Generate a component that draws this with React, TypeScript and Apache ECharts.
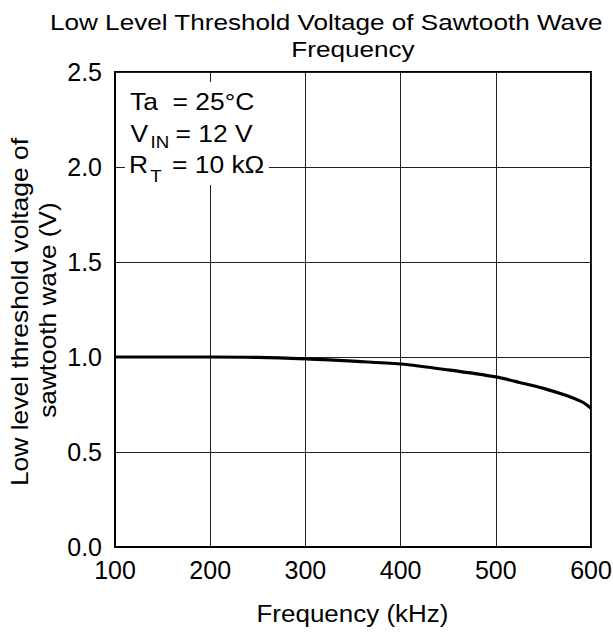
import React, { useEffect, useRef } from "react";
import * as echarts from "echarts";

const frequencies = [100, 150, 200, 250, 300, 350, 400, 450, 500, 525, 550, 575, 590, 595, 600];
const voltages = [1.0, 1.0, 1.0, 0.998, 0.99, 0.978, 0.963, 0.932, 0.895, 0.866, 0.835, 0.796, 0.765, 0.75, 0.73];
const xTicks = { min: 100, max: 600, interval: 100 };
const yTicks = { min: 0, max: 2.5, interval: 0.5 };
const titleLines = ["Low Level Threshold Voltage of Sawtooth Wave", "Frequency"];
const xName = "Frequency (kHz)";
const yNameLines = ["Low level threshold voltage of", "sawtooth wave (V)"];

const FONT = "Liberation Sans";
const MID = 0.3465;

function txt(text: string, x: number, baseline: number, fs: number, extra: any = {}) {
  return {
    type: "text",
    x,
    y: baseline - MID * fs,
    z: 101,
    scaleX: extra.scaleX ?? 1,
    style: {
      text,
      fontSize: fs,
      fontFamily: FONT,
      fill: "#000",
      align: extra.align ?? "left",
      verticalAlign: "middle",
    },
  };
}

export default function App() {
  const ref = useRef<HTMLDivElement>(null);
  useEffect(() => {
    document.body.style.margin = "0";
    const chart = echarts.init(ref.current!, null, { renderer: "svg" });
    const data = frequencies.map((f, i) => [f, voltages[i]]);
    chart.setOption({
      animation: false,
      backgroundColor: "#fff",
      grid: {
        left: 115,
        top: 72,
        right: 22,
        bottom: 95,
        show: true,
        borderColor: "#000",
        borderWidth: 2,
        outerBoundsMode: "none",
      },
      xAxis: {
        type: "value",
        min: xTicks.min,
        max: xTicks.max,
        interval: xTicks.interval,
        axisLine: { show: true, lineStyle: { color: "#000", width: 2 } },
        axisTick: { show: false },
        axisLabel: { fontSize: 25, fontFamily: FONT, color: "#000", margin: 10 },
        splitLine: { show: true, lineStyle: { color: "#222", width: 1 } },
      },
      yAxis: {
        type: "value",
        min: yTicks.min,
        max: yTicks.max,
        interval: yTicks.interval,
        axisLine: { show: true, lineStyle: { color: "#000", width: 2 } },
        axisTick: { show: false },
        axisLabel: {
          fontSize: 25,
          fontFamily: FONT,
          color: "#000",
          margin: 13,
          formatter: (v: number) => v.toFixed(1),
        },
        splitLine: { show: true, lineStyle: { color: "#222", width: 1 } },
      },
      series: [
        {
          type: "line",
          data,
          smooth: 0.3,
          showSymbol: false,
          lineStyle: { color: "#000", width: 3.2 },
          z: 5,
        },
      ],
      graphic: [
        txt(titleLines[0], 50, 29.5, 22.5, { scaleX: 1.16 }),
        txt(titleLines[1], 353, 56.7, 22.5, { scaleX: 1.16, align: "center" }),
        txt(xName, 352.5, 622, 23, { scaleX: 1.13, align: "center" }),
        {
          type: "text",
          x: 28.3 - MID * 23,
          y: 312,
          rotation: Math.PI / 2,
          scaleX: 1.15,
          z: 101,
          style: { text: yNameLines[0], fontSize: 23, fontFamily: FONT, fill: "#000", align: "center", verticalAlign: "middle" },
        },
        {
          type: "text",
          x: 56.5 - MID * 23,
          y: 310,
          rotation: Math.PI / 2,
          scaleX: 1.14,
          z: 101,
          style: { text: yNameLines[1], fontSize: 23, fontFamily: FONT, fill: "#000", align: "center", verticalAlign: "middle" },
        },
        {
          type: "rect",
          z: 100,
          shape: { x: 125, y: 82, width: 144, height: 103 },
          style: { fill: "#fff" },
        },
        txt("Ta  = 25°C", 130, 109.3, 24, { scaleX: 1.1 }),
        txt("V", 130.5, 141.7, 24, { scaleX: 1.1 }),
        txt("IN", 150.5, 148.3, 17, { scaleX: 1.1 }),
        txt("= 12 V", 175.5, 141.7, 24, { scaleX: 1.1 }),
        txt("R", 129, 173, 24, { scaleX: 1.1 }),
        txt("T", 150.3, 181.7, 17, { scaleX: 1.1 }),
        txt("= 10 kΩ", 172, 173, 24, { scaleX: 1.1 }),
      ],
    });
    return () => chart.dispose();
  }, []);
  return <div ref={ref} style={{ width: 613, height: 642 }} />;
}
